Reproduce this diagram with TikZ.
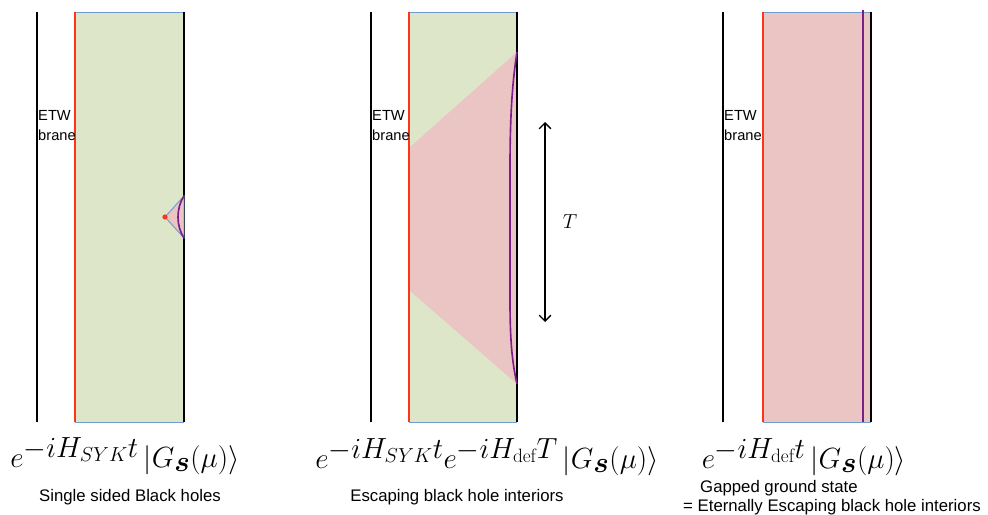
\documentclass[tikz,border=0pt]{standalone}
\usepackage{amsmath,amssymb,bm}
\usepackage{fontspec}
\newfontfamily\labelfont{Liberation Sans}
\usetikzlibrary{arrows.meta}

\definecolor{bulkgreen}{HTML}{DDE6C8}
\definecolor{bulkpink}{HTML}{EAC5C4}
\definecolor{branered}{HTML}{FF3414}
\definecolor{edgeblue}{HTML}{6E9BD2}
\definecolor{horizonpurple}{HTML}{7A1E87}

\tikzset{
  wall/.style={black,line width=1.6pt},
  brane/.style={branered,line width=1.6pt},
  rim/.style={edgeblue,line width=0.8pt},
  horizon/.style={horizonpurple,line width=1.4pt},
  etw/.style={font=\labelfont\fontsize{12.5}{17}\selectfont,align=left,anchor=north west,inner sep=0pt},
  state/.style={font=\fontsize{33}{36}\selectfont,inner sep=0pt},
  caption/.style={font=\labelfont\fontsize{14.3}{16}\selectfont,inner sep=0pt}
}

\begin{document}
\begin{tikzpicture}[x=0.03cm,y=-0.03cm]
\useasboundingbox (0,0) rectangle (988,515);

% single sided black hole
\fill[bulkgreen] (75,12) rectangle (184,422);
\draw[rim] (75,12) -- (184,12);
\draw[rim] (75,422) -- (184,422);
\draw[wall] (37,12) -- (37,422);
\draw[wall] (184,12) -- (184,422);
\draw[brane] (75,12) -- (75,422);
\filldraw[fill=bulkpink,draw=edgeblue,line width=0.8pt] (165,217) -- (184,196) -- (184,238) -- cycle;
\draw[horizon] (184,196) .. controls (176,208) and (176,226) .. (184,238);
\fill[branered] (165,217) circle (2.2pt);
\node[etw] (etwA) at (38,110) {ETW\\brane};
\node[state] (stateA) at (125,456) {$e^{-iH_{SYK}t}\,|G_{\bm{s}}(\mu)\rangle$};
\node[caption] (capA) at (130,497) {Single sided Black holes};

% escaping interiors
\fill[bulkgreen] (409,12) rectangle (517,422);
\fill[bulkpink] (409,148) -- (517,52) -- (517,384) -- (409,290) -- cycle;
\draw[rim] (409,12) -- (517,12);
\draw[rim] (409,422) -- (517,422);
\draw[wall] (371,12) -- (371,422);
\draw[wall] (517,12) -- (517,422);
\draw[brane] (409,12) -- (409,422);
\draw[horizon] (517,52) .. controls (511,90) and (510,130) .. (510,170) -- (510,300)
  .. controls (510,340) and (512,362) .. (517,384);
\node[etw] (etwB) at (372,110) {ETW\\brane};
\coordinate (Ttop) at (545,122);
\coordinate (Tbot) at (545,322);
\draw[{Straight Barb[length=5pt]}-{Straight Barb[length=5pt]},line width=1.2pt] (Ttop) -- (Tbot);
\node[font=\fontsize{17}{19}\selectfont] (Tlab) at (570,222) {$T$};
\node[state] (stateB) at (487,457) {$e^{-iH_{SYK}t}e^{-iH_{\mathrm{def}}T}\,|G_{\bm{s}}(\mu)\rangle$};
\node[caption] (capB) at (457,497) {Escaping black hole interiors};

% gapped ground state
\fill[bulkpink] (763,12) rectangle (871,422);
\draw[rim] (763,12) -- (871,12);
\draw[rim] (763,422) -- (871,422);
\draw[wall] (723,12) -- (723,422);
\draw[horizon] (863,10) -- (863,422);
\draw[wall] (871,12) -- (871,422);
\draw[brane] (763,12) -- (763,422);
\node[etw] (etwC) at (724,110) {ETW\\brane};
\node[state] (stateC) at (804,457) {$e^{-iH_{\mathrm{def}}t}\,|G_{\bm{s}}(\mu)\rangle$};
\node[caption,anchor=west] (capC) at (700,488) {Gapped ground state};
\node[caption,anchor=west] (capD) at (683,507) {= Eternally Escaping black hole interiors};
\end{tikzpicture}
\end{document}
